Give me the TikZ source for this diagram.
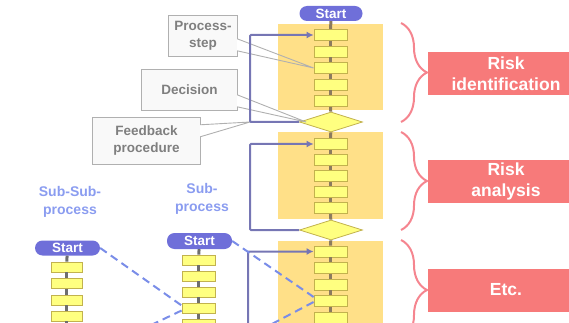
\documentclass[tikz,border=0pt]{standalone}
\usepackage{fontspec}
\setmainfont{Liberation Sans}
\usetikzlibrary{shapes.geometric,arrows.meta,decorations.pathreplacing,calc}
\definecolor{panelc}{HTML}{FFE088}
\definecolor{boxfill}{HTML}{FFFF80}
\definecolor{boxline}{HTML}{C2B24E}
\definecolor{pillc}{HTML}{6F6FD9}
\definecolor{loopc}{HTML}{7676B4}
\definecolor{dashc}{HTML}{7A8DE8}
\definecolor{linkc}{HTML}{8B7B5E}
\definecolor{sublinkc}{HTML}{6E6E6E}
\definecolor{riskc}{HTML}{F77A7A}
\definecolor{bracec}{HTML}{F5858F}
\definecolor{calltext}{HTML}{7F7F7F}
\definecolor{callfill}{HTML}{F9F9F9}
\definecolor{callline}{HTML}{B0B0B0}
\definecolor{sublabc}{HTML}{8A9CF0}
\tikzset{
  pbox/.style={rectangle, draw=boxline, fill=boxfill, minimum width=33, minimum height=11, inner sep=0, line width=0.8},
  sbox/.style={pbox, minimum height=10},
  ssbox/.style={pbox, minimum width=31, minimum height=10},
  dec/.style={diamond, draw=boxline, fill=boxfill, minimum width=63, minimum height=20, inner sep=0, line width=0.8},
  pill/.style={rectangle, rounded corners=7.5, fill=pillc, text=white, font=\fontsize{13.5}{15}\selectfont\bfseries, minimum width=63, minimum height=15, inner sep=0},
  link/.style={draw=linkc, line width=3},
  slink/.style={draw=sublinkc, line width=3},
  fbl/.style={draw=loopc, line width=2, rounded corners=1},
  fbarrow/.style={fbl, -{Latex[length=7,width=7]}},
  proj/.style={draw=dashc, line width=2, dash pattern=on 8 off 5},
  callout/.style={rectangle, fill=callfill, text=calltext, font=\fontsize{13.5}{17}\selectfont\bfseries, align=center, inner sep=0},
  calline/.style={draw=callline, line width=0.9},
  riskbox/.style={rectangle, fill=riskc, text=white, font=\fontsize{17.5}{21}\selectfont\bfseries, align=center, minimum width=156, minimum height=43, inner sep=0},
  bracestyle/.style={draw=bracec, line width=2, decorate, decoration={brace, amplitude=26}},
  sublab/.style={text=sublabc, font=\fontsize{14}{18}\selectfont\bfseries, align=center},
}
\begin{document}
\begin{tikzpicture}[x=1pt,y=-1pt]
\useasboundingbox (0,0) rectangle (569,323);
\clip (0,0) rectangle (569,323);
% panels
\fill[panelc] (278,24) rectangle (383,110);
\fill[panelc] (278,132) rectangle (383,219);
\fill[panelc] (278,241) rectangle (383,340);
% coordinates for the main column
\coordinate (mEnd) at (330.5,345);
\coordinate (tEnd) at (66.5,345);
% links drawn first (under nodes), using placeholder positions
\path (331,13.5) coordinate (pmS);
% main column nodes
\node[pill] (mS) at (331,13.5) {Start};
\foreach \i/\y in {1/35,2/51.5,3/68,4/84.5,5/101,6/144,7/160,8/176,9/192,10/208,11/251.5,12/268,13/284.5,14/301,15/317.5}
  \node[pbox] (m\i) at (330.5,\y) {};
\node[dec] (d1) at (331,122) {};
\node[dec] (d2) at (331,230) {};
% sub column
\node[pill, minimum width=65, minimum height=16] (sS) at (199.5,241) {Start};
\foreach \i/\y in {1/260,2/276,3/292,4/308.5,5/324.5}
  \node[sbox] (s\i) at (198.5,\y) {};
% sub-sub column
\node[pill, minimum width=65] (tS) at (67.5,248) {Start};
\foreach \i/\y in {1/267,2/283.5,3/300,4/316}
  \node[ssbox] (t\i) at (66.5,\y) {};
% links
\foreach \a/\b in {mS/m1,m1/m2,m2/m3,m3/m4,m4/m5,m5/d1,d1/m6,m6/m7,m7/m8,m8/m9,m9/m10,m10/d2,d2/m11,m11/m12,m12/m13,m13/m14,m14/m15,m15/mEnd}
  \draw[link] (\a) -- (\b);
\foreach \a/\b in {sS/s1,s1/s2,s2/s3,s3/s4,s4/s5}
  \draw[slink] (\a) -- (\b);
\foreach \a/\b in {tS/t1,t1/t2,t2/t3,t3/t4,t4/tEnd}
  \draw[slink] (\a) -- (\b);
% callouts
\node[callout, minimum width=68, minimum height=40] (ps) at (203,36) {Process-\\step};
\path (ps.north east) ++(0,23) coordinate (psa) ++(0,12) coordinate (psb);
\draw[calline] (psa) -- (ps.north east) -- (ps.north west) -- (ps.south west) -- (ps.south east) -- (psb);
\draw[calline] (psa) -- (m3.west) -- (psb);
\node[callout, minimum width=95, minimum height=40] (dc) at (189.5,90) {Decision};
\path (dc.north east) ++(0,25) coordinate (dca) ++(0,12) coordinate (dcb);
\coordinate (dtip) at ($(d1.west)+(7,0)$);
\draw[calline] (dca) -- (dc.north east) -- (dc.north west) -- (dc.south west) -- (dc.south east) -- (dcb);
\draw[calline] (dca) -- (dtip) -- (dcb);
\node[callout, minimum width=107, minimum height=46] (fb) at (146.5,141) {Feedback\\procedure};
\path (fb.north east) ++(0,7) coordinate (fba) ++(0,12) coordinate (fbb);
\coordinate (c1) at (250,122);
\draw[calline] (fba) -- (fb.north east) -- (fb.north west) -- (fb.south west) -- (fb.south east) -- (fbb);
\draw[calline] (fba) -- (c1) -- (fbb);
% feedback loops
\coordinate (c2) at (250,230);
\coordinate (c3) at (248,345);
\draw[fbarrow] (d1.west) -- (c1) |- (m1.west);
\draw[fbarrow] (d2.west) -- (c2) |- (m6.west);
\draw[fbarrow] (c3) |- (m11.west);
% projection lines
\coordinate (sEnd) at (215,354);
\coordinate (ssEnd) at (82,358);
\draw[proj] (sS.east) -- ($(m14.west)+(0,-4)$);
\draw[proj] ($(m14.west)+(0,1)$) -- (sEnd);
\draw[proj] (tS.east) -- ($(s4.west)+(0,-3)$);
\draw[proj] ($(s4.west)+(0,2)$) -- (ssEnd);
% labels
\node[sublab] (lss) at (70,202) {Sub-Sub-\\process};
\node[sublab] (ls) at (202,199) {Sub-\\process};
% braces
\coordinate (b1t) at (401,23); \coordinate (b1b) at (401,122);
\coordinate (b2t) at (401,132); \coordinate (b2b) at (401,230);
\coordinate (b3t) at (401,240); \coordinate (b3b) at (401,340);
\draw[bracestyle] (b1t) -- (b1b);
\draw[bracestyle] (b2t) -- (b2b);
\draw[bracestyle] (b3t) -- (b3b);
% risk boxes
\node[riskbox] (r1) at (506,73.5) {Risk\\identification};
\node[riskbox] (r2) at (506,181.5) {Risk\\analysis};
\node[riskbox] (r3) at (506,290) {Etc.};
\end{tikzpicture}
\end{document}
